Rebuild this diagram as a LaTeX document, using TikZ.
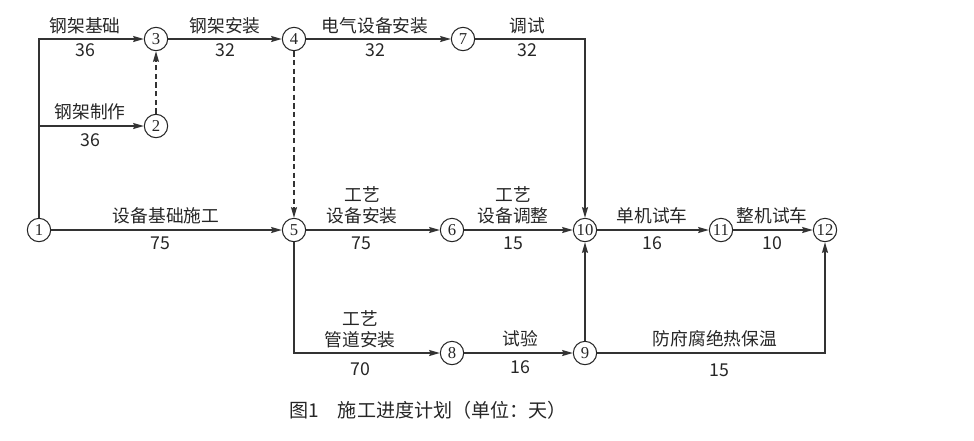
\documentclass[tikz,border=0pt]{standalone}
\usepackage{fontspec}
\setmainfont{Noto Sans CJK SC}
\newfontfamily\evfont{Liberation Serif}
\usetikzlibrary{arrows.meta}

\begin{document}
\begin{tikzpicture}[x=0.75pt, y=-0.75pt, >={Stealth[length=8pt, width=4.5pt, inset=1pt]},
  ev/.style={circle, draw=black!85, line width=0.8pt, minimum size=17.5pt, inner sep=0pt, text=black!85,
    font=\evfont\fontsize{12.5}{12.5}\selectfont},
  lbl/.style={font=\fontsize{13.3}{16}\selectfont, inner sep=0pt, text=black!85},
  act/.style={->, line width=0.95pt, draw=black!80},
  dummy/.style={act, dash pattern=on 4pt off 2.5pt}]
  \useasboundingbox (0,0) rectangle (974,440);
  % events
  \node[ev] (n1) at (39,230) {1};
  \node[ev] (n2) at (156,126) {2};
  \node[ev] (n3) at (156,39) {3};
  \node[ev] (n4) at (294,39) {4};
  \node[ev] (n5) at (294,230) {5};
  \node[ev] (n6) at (452,230) {6};
  \node[ev] (n7) at (463,39) {7};
  \node[ev] (n8) at (452,353) {8};
  \node[ev] (n9) at (585,353) {9};
  \node[ev] (n10) at (585,230) {10};
  \node[ev] (n11) at (721,230) {11};
  \node[ev] (n12) at (825,230) {12};
  % bends
  \coordinate (c13) at (39,39);
  \coordinate (c12) at (39,126);
  \coordinate (c710) at (585,39);
  \coordinate (c58) at (294,353);
  \coordinate (c912) at (825,353);
  % activities
  \draw[act] (n1) -- (c13) -- (n3);
  \draw[act] (c12) -- (n2);
  \draw[act] (n1) -- (n5);
  \draw[act] (n3) -- (n4);
  \draw[act] (n4) -- (n7);
  \draw[act] (n7) -- (c710) -- (n10);
  \draw[dummy] (n2) -- (n3);
  \draw[dummy] (n4) -- (n5);
  \draw[act] (n5) -- (n6);
  \draw[act] (n6) -- (n10);
  \draw[act] (n10) -- (n11);
  \draw[act] (n11) -- (n12);
  \draw[act] (n5) -- (c58) -- (n8);
  \draw[act] (n8) -- (n9);
  \draw[act] (n9) -- (n10);
  \draw[act] (n9) -- (c912) -- (n12);
  % labels
  \node[lbl] (a13) at (85,26) {钢架基础};
  \node[lbl] (d13) at (85,50) {36};
  \node[lbl] (a12) at (90,112) {钢架制作};
  \node[lbl] (d12) at (90,140) {36};
  \node[lbl] (a34) at (225,26) {钢架安装};
  \node[lbl] (d34) at (225,50) {32};
  \node[lbl] (a47) at (375,26) {电气设备安装};
  \node[lbl] (d47) at (375,50) {32};
  \node[lbl] (a710) at (527,26) {调试};
  \node[lbl] (d710) at (527,50) {32};
  \node[lbl] (a15) at (166,216) {设备基础施工};
  \node[lbl] (d15) at (160,243) {75};
  \node[lbl, align=center] (a56) at (362,205) {工艺\\设备安装};
  \node[lbl] (d56) at (361,243) {75};
  \node[lbl, align=center] (a610) at (513,205) {工艺\\设备调整};
  \node[lbl] (d610) at (513,243) {15};
  \node[lbl] (a1011) at (652,216) {单机试车};
  \node[lbl] (d1011) at (652,243) {16};
  \node[lbl] (a1112) at (772,216) {整机试车};
  \node[lbl] (d1112) at (772,243) {10};
  \node[lbl, align=center] (a58) at (360,329) {工艺\\管道安装};
  \node[lbl] (d58) at (360,369) {70};
  \node[lbl] (a89) at (520,339) {试验};
  \node[lbl] (d89) at (520,367) {16};
  \node[lbl] (a912) at (715,339) {防府腐绝热保温};
  \node[lbl] (d912) at (719,370) {15};
  % caption
  \node[lbl, font=\fontsize{14.3}{17}\selectfont] (cap) at (428,410) {图1　施工进度计划（单位：天）};
\end{tikzpicture}
\end{document}
